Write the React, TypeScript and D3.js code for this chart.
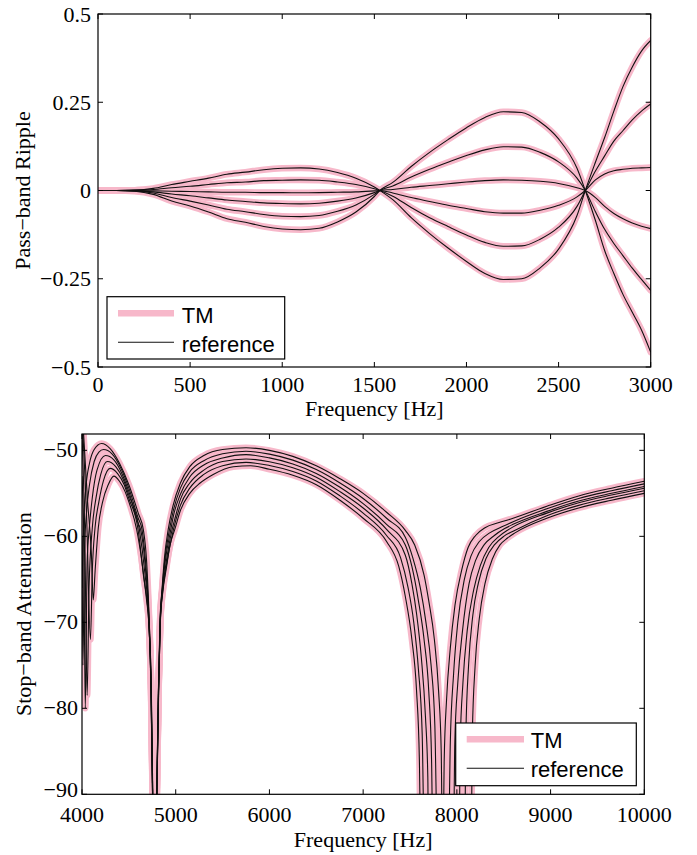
import React from 'react';
import * as d3 from 'd3';

// ---------- Top panel data (pass-band ripple) ----------
const TOP_FREQ = [0,100,200,300,400,500,600,700,800,900,1000,1100,1200,1300,1400,1500,1530,1600,1700,1800,1900,2000,2100,2200,2300,2400,2500,2600,2645,2700,2750,2800,2850,2900,2950,3000];
const TOP_C0 = [0,0,0.001,0.006,0.017,0.026,0.035,0.046,0.052,0.059,0.063,0.064,0.061,0.051,0.035,0.010,0,-0.026,-0.077,-0.122,-0.163,-0.201,-0.235,-0.252,-0.250,-0.219,-0.166,-0.071,0,0.08,0.15,0.225,0.295,0.35,0.395,0.425];
const TOP_C1 = [0,0,0.001,0.003,0.008,0.012,0.017,0.022,0.024,0.028,0.029,0.030,0.029,0.024,0.017,0.005,0,-0.016,-0.048,-0.077,-0.102,-0.126,-0.147,-0.158,-0.157,-0.138,-0.104,-0.045,0,0.055,0.098,0.14,0.17,0.2,0.225,0.245];
const TOP_C2 = [0,0,0,-0.001,-0.002,-0.003,-0.004,-0.005,-0.005,-0.006,-0.006,-0.0065,-0.006,-0.005,-0.004,-0.001,0,-0.007,-0.020,-0.031,-0.042,-0.051,-0.060,-0.064,-0.064,-0.056,-0.042,-0.018,0,0.03,0.047,0.056,0.06,0.063,0.064,0.065];
const TOP_C3 = [0,0,-0.001,-0.004,-0.010,-0.015,-0.021,-0.027,-0.031,-0.035,-0.037,-0.038,-0.036,-0.030,-0.021,-0.006,0,0.003,0.009,0.014,0.019,0.024,0.028,0.030,0.029,0.026,0.020,0.008,0,-0.02,-0.045,-0.065,-0.08,-0.092,-0.101,-0.108];
const TOP_C4 = [0,0,-0.001,-0.007,-0.020,-0.030,-0.041,-0.053,-0.060,-0.068,-0.073,-0.074,-0.071,-0.059,-0.041,-0.011,0,0.013,0.038,0.060,0.080,0.099,0.115,0.124,0.123,0.108,0.081,0.035,0,-0.06,-0.11,-0.15,-0.185,-0.22,-0.252,-0.283];
const TOP_C5 = [0,0,-0.002,-0.011,-0.030,-0.044,-0.061,-0.080,-0.090,-0.102,-0.109,-0.111,-0.107,-0.089,-0.061,-0.017,0,0.023,0.068,0.108,0.144,0.178,0.207,0.223,0.221,0.194,0.146,0.063,0,-0.085,-0.17,-0.235,-0.295,-0.345,-0.395,-0.458];

// ---------- Bottom panel data (stop-band attenuation), [Hz, dB] ----------
const BOT_C0: [number, number][] = [[4000,-66],[4015,-59],[4040,-54.5],[4080,-51.5],[4130,-49.9],[4210,-49.2],[4300,-49.8],[4400,-51.5],[4500,-54],[4600,-57.3],[4654,-59.2],[4690,-63],[4718,-70],[4740,-78],[4755,-90],[4776,-110],[4797,-90],[4815,-78],[4832,-70],[4855,-66],[4880,-62.5],[4920,-59.2],[4970,-56.5],[5050,-53.8],[5150,-51.9],[5300,-50.6],[5500,-49.9],[5750,-49.7],[6000,-50.0],[6250,-50.7],[6500,-51.8],[6753,-53.3],[7000,-55.0],[7250,-57.2],[7450,-59.3],[7550,-61],[7650,-64.5],[7700,-67.5],[7760,-72],[7805,-78],[7833,-85],[7850,-100],[7865,-86],[7890,-79],[7930,-73],[7980,-68],[8050,-64],[8120,-61.3],[8200,-59.9],[8300,-59.0],[8450,-58.4],[8600,-57.9],[8960,-56.5],[9300,-55.3],[9650,-54.4],[10000,-53.6]];
const BOT_C1: [number, number][] = [[4000,-60],[4010,-75],[4025,-62],[4050,-57],[4080,-54],[4130,-51.3],[4180,-50.2],[4230,-49.9],[4320,-50.4],[4420,-52.2],[4500,-54.4],[4600,-57.9],[4640,-59.2],[4680,-63.2],[4717,-70],[4739,-78],[4754,-90],[4776,-110],[4797,-90],[4816,-78],[4833,-70],[4857,-66],[4883,-62.8],[4934,-59.2],[4970,-57.2],[5050,-54.4],[5150,-52.5],[5300,-51.2],[5500,-50.4],[5750,-50.1],[6000,-50.44],[6250,-51.14],[6500,-52.24],[6753,-53.8],[7000,-55.6],[7250,-57.9],[7450,-60.1],[7530,-62.5],[7610,-66],[7670,-70],[7725,-75],[7765,-82],[7800,-100],[7850,-99],[7905,-100],[7930,-84],[7965,-76],[8010,-70],[8080,-65],[8150,-62.3],[8240,-60.6],[8350,-59.6],[8480,-58.9],[8600,-58.3],[8960,-56.8],[9300,-55.6],[9650,-54.7],[10000,-53.9]];
const BOT_C2: [number, number][] = [[4000,-53],[4020,-62],[4035,-80],[4055,-63],[4078,-59],[4110,-55.5],[4160,-52.3],[4250,-50.6],[4340,-51.1],[4430,-52.8],[4500,-54.8],[4600,-58.5],[4625,-59.2],[4675,-63.5],[4715,-70],[4738,-78],[4754,-90],[4776,-110],[4798,-90],[4816,-78],[4834,-70],[4858,-66.1],[4886,-63.1],[4948,-59.2],[4970,-57.9],[5050,-55.1],[5150,-53.1],[5300,-51.7],[5500,-50.9],[5750,-50.5],[6000,-50.88],[6250,-51.58],[6500,-52.68],[6753,-54.3],[7000,-56.2],[7250,-58.6],[7450,-61.0],[7520,-63.5],[7590,-67.5],[7650,-72],[7700,-78],[7730,-86],[7750,-100],[7855,-99],[7960,-100],[7978,-84],[8010,-77],[8060,-71],[8130,-65.5],[8200,-62.8],[8290,-61],[8400,-59.9],[8510,-59.1],[8600,-58.6],[8960,-57.1],[9300,-55.9],[9650,-55.0],[10000,-54.2]];
const BOT_C3: [number, number][] = [[4000,-48],[4030,-60],[4055,-78.5],[4075,-66],[4110,-59],[4150,-55.5],[4200,-52.8],[4270,-51.3],[4360,-51.9],[4440,-53.4],[4500,-55.2],[4612,-59.2],[4668,-64],[4714,-70],[4737,-78],[4753,-90],[4776,-110],[4798,-90],[4817,-78],[4835,-70],[4860,-66.2],[4893,-63.4],[4962,-59.2],[4990,-58.0],[5050,-55.7],[5150,-53.8],[5300,-52.3],[5500,-51.3],[5750,-51.0],[6000,-51.32],[6250,-52.02],[6500,-53.12],[6753,-54.8],[7000,-56.7],[7250,-59.2],[7450,-62.2],[7520,-65.5],[7570,-69],[7620,-74],[7665,-81],[7690,-88],[7700,-100],[7860,-99],[8020,-100],[8036,-84],[8065,-77],[8110,-71],[8180,-66.2],[8250,-63.4],[8340,-61.3],[8450,-60],[8540,-59.3],[8600,-58.9],[8960,-57.3],[9300,-56.1],[9650,-55.2],[10000,-54.4]];
const BOT_C4: [number, number][] = [[4000,-46],[4050,-58],[4090,-72],[4110,-64],[4139,-59],[4180,-56],[4230,-53.5],[4300,-52.1],[4380,-52.7],[4450,-54.0],[4500,-55.6],[4598,-59.2],[4655,-64.5],[4713,-70],[4736,-78],[4753,-90],[4776,-110],[4799,-90],[4817,-78],[4835,-70],[4861,-66.4],[4897,-63.6],[4976,-59.2],[5050,-56.4],[5150,-54.4],[5300,-52.8],[5500,-51.8],[5750,-51.4],[6000,-51.76],[6250,-52.46],[6500,-53.56],[6753,-55.3],[7000,-57.3],[7250,-59.9],[7400,-62.5],[7480,-66],[7540,-70],[7590,-75.5],[7630,-83],[7660,-100],[7870,-99],[8080,-100],[8096,-83],[8125,-75],[8170,-69.2],[8230,-65.4],[8310,-62.6],[8400,-61],[8500,-60],[8600,-59.4],[8960,-57.6],[9300,-56.4],[9650,-55.5],[10000,-54.7]];
const BOT_C5: [number, number][] = [[4000,-45],[4060,-56],[4100,-62],[4120,-67.4],[4140,-64],[4174,-59],[4220,-56],[4280,-54],[4340,-53],[4400,-53.6],[4460,-54.8],[4500,-56],[4583,-59.2],[4640,-63],[4690,-67.5],[4712,-70],[4737,-78],[4752,-90],[4776,-110],[4799,-90],[4818,-78],[4836,-70],[4862,-66.5],[4900,-63.7],[4940,-61],[4990,-59.2],[5050,-57],[5150,-55],[5260,-53.8],[5400,-52.8],[5615,-51.9],[5800,-51.8],[6000,-52.2],[6250,-52.9],[6500,-54.0],[6753,-55.8],[7000,-57.9],[7250,-60.6],[7380,-63.5],[7450,-67],[7520,-72],[7570,-78],[7600,-86],[7620,-100],[7880,-99],[8150,-100],[8165,-83],[8195,-75],[8240,-69.5],[8300,-65.5],[8380,-62.6],[8460,-61],[8540,-60.2],[8620,-59.6],[8960,-57.9],[9300,-56.7],[9650,-55.8],[10000,-55.0]];

// ---------- Axes / labels ----------
const TOP_X_TICKS = [0, 500, 1000, 1500, 2000, 2500, 3000];
const TOP_Y_TICKS = [-0.5, -0.25, 0, 0.25, 0.5];
const TOP_Y_LABELS = ['\u22120.5', '\u22120.25', '0', '0.25', '0.5'];
const BOT_X_TICKS = [4000, 5000, 6000, 7000, 8000, 9000, 10000];
const BOT_Y_TICKS = [-90, -80, -70, -60, -50];
const BOT_Y_LABELS = ['\u221290', '\u221280', '\u221270', '\u221260', '\u221250'];
const LEGEND_LABELS = ['TM', 'reference'];
const X_LABEL = 'Frequency [Hz]';
const TOP_Y_TITLE = 'Pass\u2212band Ripple';
const BOT_Y_TITLE = 'Stop\u2212band Attenuation';

const PINK = '#F7B8CA';
const SERIF = '"Liberation Serif", "Times New Roman", serif';
const SANS = '"Liberation Sans", Arial, Helvetica, sans-serif';

type Pt = [number, number];

interface PanelProps {
  id: string;
  left: number; right: number; top: number; bottom: number;
  xDomain: [number, number]; yDomain: [number, number];
  xTicks: number[]; yTicks: number[]; yLabels: string[];
  series: Pt[][];
  yTitle: string; yTitleX: number;
  xTickBaseline: number; xTitleBaseline: number; yLabelGap: number; yLabelShifts: number[];
  legend: { x: number; y: number; w: number; h: number; line1Y: number; line2Y: number; lx0: number; lx1: number; tx: number; t1: number; t2: number };
}

function Panel(p: PanelProps) {
  const x = d3.scaleLinear().domain(p.xDomain).range([p.left, p.right]);
  const y = d3.scaleLinear().domain(p.yDomain).range([p.bottom, p.top]);
  const line = d3.line<Pt>().x(d => x(d[0])).y(d => y(d[1])).curve(d3.curveMonotoneX);
  const tl = 5;
  const L = p.legend;
  return (
    <g>
      <defs>
        <clipPath id={p.id}>
          <rect x={p.left} y={p.top} width={p.right - p.left} height={p.bottom - p.top} />
        </clipPath>
      </defs>
      <rect x={p.left} y={p.top} width={p.right - p.left} height={p.bottom - p.top} fill="#fff" />
      <g clipPath={`url(#${p.id})`}>
        {p.series.map((s, i) => (
          <path key={'tm' + i} d={line(s) || ''} fill="none" stroke={PINK} strokeWidth={6.5} strokeLinejoin="round" strokeLinecap="round" />
        ))}
        {p.series.map((s, i) => (
          <path key={'rf' + i} d={line(s) || ''} fill="none" stroke="#111" strokeWidth={1.1} strokeLinejoin="round" />
        ))}
      </g>
      {p.xTicks.map(t => (
        <g key={'xt' + t}>
          <line x1={x(t)} x2={x(t)} y1={p.bottom} y2={p.bottom - tl} stroke="#000" strokeWidth={1} />
          <line x1={x(t)} x2={x(t)} y1={p.top} y2={p.top + tl} stroke="#000" strokeWidth={1} />
          <text x={x(t)} y={p.xTickBaseline} textAnchor="middle" fontFamily={SERIF} fontSize={22} fill="#000">{t}</text>
        </g>
      ))}
      {p.yTicks.map((t, i) => (
        <g key={'yt' + t}>
          <line x1={p.left} x2={p.left + tl} y1={y(t)} y2={y(t)} stroke="#000" strokeWidth={1} />
          <line x1={p.right} x2={p.right - tl} y1={y(t)} y2={y(t)} stroke="#000" strokeWidth={1} />
          <text x={p.left - p.yLabelGap} y={y(t) + p.yLabelShifts[i]} textAnchor="end" fontFamily={SERIF} fontSize={22} fill="#000">{p.yLabels[i]}</text>
        </g>
      ))}
      <rect x={p.left} y={p.top} width={p.right - p.left} height={p.bottom - p.top} fill="none" stroke="#000" strokeWidth={1.2} />
      <text x={(p.left + p.right) / 2} y={p.xTitleBaseline} textAnchor="middle" fontFamily={SERIF} fontSize={22} fill="#000">{X_LABEL}</text>
      <text transform={`translate(${p.yTitleX},${(p.top + p.bottom) / 2}) rotate(-90)`} textAnchor="middle" fontFamily={SERIF} fontSize={22} fill="#000">{p.yTitle}</text>
      <rect x={L.x} y={L.y} width={L.w} height={L.h} fill="#fff" stroke="#000" strokeWidth={1.2} />
      <line x1={L.lx0} x2={L.lx1} y1={L.line1Y} y2={L.line1Y} stroke={PINK} strokeWidth={6.5} />
      <line x1={L.lx0} x2={L.lx1} y1={L.line2Y} y2={L.line2Y} stroke="#111" strokeWidth={1.1} />
      <text x={L.tx} y={L.t1} fontFamily={SANS} fontSize={22} fill="#000">{LEGEND_LABELS[0]}</text>
      <text x={L.tx} y={L.t2} fontFamily={SANS} fontSize={22} fill="#000">{LEGEND_LABELS[1]}</text>
    </g>
  );
}

export default function App() {
  const topSeries: Pt[][] = [TOP_C0, TOP_C1, TOP_C2, TOP_C3, TOP_C4, TOP_C5].map(vals => vals.map((v, i) => [TOP_FREQ[i], v] as Pt));
  const botSeries: Pt[][] = [BOT_C0, BOT_C1, BOT_C2, BOT_C3, BOT_C4, BOT_C5];
  return (
    <svg width={697} height={855} style={{ position: 'absolute', left: 0, top: 0, background: '#fff' }}>
      <rect x={0} y={0} width={697} height={855} fill="#fff" />
      <Panel
        id="clipTop"
        left={98} right={650.7} top={14} bottom={367}
        xDomain={[0, 3000]} yDomain={[-0.5, 0.5]}
        xTicks={TOP_X_TICKS} yTicks={TOP_Y_TICKS} yLabels={TOP_Y_LABELS}
        series={topSeries}
        yTitle={TOP_Y_TITLE} yTitleX={30}
        xTickBaseline={392} xTitleBaseline={416} yLabelGap={7} yLabelShifts={[7.5, 7.5, 7.5, 7.5, 7.5]}
        legend={{ x: 107, y: 296.7, w: 177.7, h: 62.3, line1Y: 313.3, line2Y: 342.3, lx0: 118, lx1: 174, tx: 181.7, t1: 323.3, t2: 351.5 }}
      />
      <Panel
        id="clipBot"
        left={82} right={644.3} top={434} bottom={794.3}
        xDomain={[4000, 10000]} yDomain={[-90, -48.1]}
        xTicks={BOT_X_TICKS} yTicks={BOT_Y_TICKS} yLabels={BOT_Y_LABELS}
        series={botSeries}
        yTitle={BOT_Y_TITLE} yTitleX={30.5}
        xTickBaseline={822} xTitleBaseline={846.5} yLabelGap={4} yLabelShifts={[3, 6.5, 6.5, 6.5, 6.5]}
        legend={{ x: 455.7, y: 723, w: 180.6, h: 62.7, line1Y: 739.3, line2Y: 768.3, lx0: 466.7, lx1: 524, tx: 530.7, t1: 748.3, t2: 777 }}
      />
    </svg>
  );
}
